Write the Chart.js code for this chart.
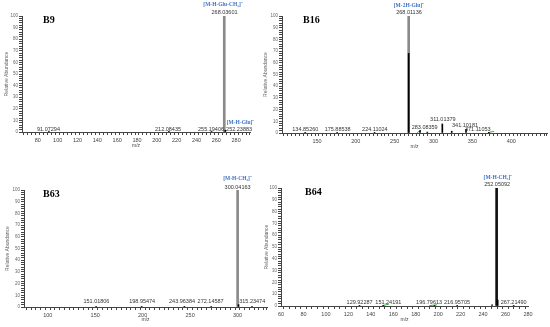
<!DOCTYPE html>
<html>
<head>
<meta charset="utf-8">
<script src="https://cdn.jsdelivr.net/npm/chart.js@4.4.0/dist/chart.umd.min.js"></script>
<style>
  body { margin: 0; background: #fff; width: 550px; height: 327px; overflow: hidden; position: relative; }
  .panel { position: absolute; }
</style>
</head>
<body>
<div class="panel" style="left:0;top:0;width:275px;height:165px"><canvas id="b9"></canvas></div>
<div class="panel" style="left:258px;top:0;width:292px;height:165px"><canvas id="b16"></canvas></div>
<div class="panel" style="left:0;top:165px;width:275px;height:162px"><canvas id="b63"></canvas></div>
<div class="panel" style="left:258px;top:165px;width:292px;height:162px"><canvas id="b64"></canvas></div>
<script>
// B9
const b9BaseMz = [268.036];
const b9BaseAb = [100];
const b9PeakMz = [91.07, 212.08, 255.19, 269.1];
const b9PeakAb = [0.3, 0.3, 0.3, 1.5];
const b9Labels = ["91.07294", "212.08435", "255.19406", "268.03601", "252.23883"];
const b9LabelMz = [90.7, 211.3, 254.7, 268.3, 283];
const b9LabelAb = [2.3, 2.3, 2.3, 103.2, 2.2];
const b9Ions = ["[M-H-Glu-CH\u2083]\u207B", "[M-H-Glu]\u207B"];
const b9IonMz = [266.8, 284.5];
const b9IonAb = [109.5, 8];

// B16
const b16BaseMz = [268.011];
const b16BaseAb = [100];
const b16PeakMz = [134.85, 175.89, 224.11, 268.011, 282.6, 292, 311.3, 323.4, 341.8, 371.1];
const b16PeakAb = [0.3, 0.3, 0.3, 68, 2, 0.8, 7.7, 1.5, 3.2, 0.3];
const b16GreenMz = [279, 284, 330, 370, 378];
const b16GreenAb = [0.3, 2.5, null, 0.3, 1.5];
const b16Labels = ["134.85260", "175.88538", "224.11024", "268.01136", "283.08359", "311.01379", "341.10181", "371.11053"];
const b16LabelMz = [135, 176.6, 224.5, 268.4, 288.6, 312, 340.5, 356.9];
const b16LabelAb = [3.4, 3.4, 3.4, 103, 4.8, 11.3, 6, 3.2];
const b16Ions = ["[M-2H-Glu]\u207B"];
const b16IonMz = [268.4];
const b16IonAb = [109];

// B63
const b63BaseMz = [300.042];
const b63BaseAb = [100];
const b63PeakMz = [151.02, 198.95, 243.96, 272.15, 301, 315.23];
const b63PeakAb = [0.3, 0.3, 0.3, 0.3, 2, 0.3];
const b63Labels = ["151.01806", "198.95474", "243.96384", "272.14587", "300.04163", "315.23474"];
const b63LabelMz = [151.3, 199.5, 241.5, 271.6, 300, 315.4];
const b63LabelAb = [4.5, 4.5, 4.5, 4.5, 102, 4.5];
const b63Ions = ["[M-H-CH\u2083]\u207B"];
const b63IonMz = [300];
const b63IonAb = [109.4];

// B64
const b64BaseMz = [252.051];
const b64BaseAb = [100];
const b64PeakMz = [129.92, 151.24, 196.8, 216.96, 248, 253, 267.21];
const b64PeakAb = [0.3, 0.3, 0.3, 0.3, 1, 5, 0.3];
const b64GreenMz = [150, 156, 175, 192, 199];
const b64GreenAb = [0.3, 1.5, null, 0.3, 1];
const b64Labels = ["129.92287", "151.24191", "196.79613", "216.95705", "252.05092", "267.21490"];
const b64LabelMz = [130, 155.6, 191.9, 216.8, 252.5, 267.2];
const b64LabelAb = [3.4, 3.4, 3.4, 3.4, 103, 3.4];
const b64Ions = ["[M-H-CH\u2083]\u207B"];
const b64IonMz = [253.2];
const b64IonAb = [109];

const AXIS_COLOR = "#444";

const peakText = {
    id: "peakText",
    afterDatasetsDraw(chart, args, o) {
        const { ctx, chartArea } = chart;
        const x = chart.scales.x, y = chart.scales.y;
        ctx.save();
        ctx.textAlign = "center";
        ctx.textBaseline = "middle";
        ctx.font = '5.5px "Liberation Sans"';
        ctx.fillStyle = "#333";
        o.labels.forEach((t, i) => ctx.fillText(t, x.getPixelForValue(o.labelMz[i]), y.getPixelForValue(o.labelAb[i])));
        ctx.font = 'bold 5.5px "Liberation Serif"';
        ctx.fillStyle = "#3f72c6";
        o.ions.forEach((t, i) => ctx.fillText(t, x.getPixelForValue(o.ionMz[i]), y.getPixelForValue(o.ionAb[i])));
        ctx.font = 'bold 10px "Liberation Serif"';
        ctx.fillStyle = "#000";
        ctx.textAlign = "left";
        ctx.fillText(o.title, chartArea.left + o.titleDx, chartArea.top + o.titleDy);
        ctx.restore();
    },
};

function toPoints(xs, ys) {
    return xs.map((v, i) => ({ x: v, y: ys[i] }));
}

function createPanel(id, p) {
    const datasets = [
        { data: toPoints(p.peakMz, p.peakAb), backgroundColor: "#000", barThickness: 1 },
        { data: toPoints(p.baseMz, p.baseAb), backgroundColor: p.baseColor, barThickness: 2 },
    ];
    if (p.greenMz)
        datasets.push({
            type: "line",
            data: toPoints(p.greenMz, p.greenAb),
            borderColor: "#3cb043",
            borderWidth: 1,
            pointRadius: 0,
            spanGaps: false,
        });

    new Chart(document.getElementById(id), {
        type: "bar",
        data: { datasets },
        plugins: [peakText],
        options: {
            responsive: true,
            maintainAspectRatio: false,
            animation: false,
            events: [],
            datasets: { bar: { grouped: false, borderWidth: 0 } },
            layout: { padding: p.padding },
            plugins: {
                legend: { display: false },
                tooltip: { enabled: false },
                peakText: {
                    labels: p.labels, labelMz: p.labelMz, labelAb: p.labelAb,
                    ions: p.ions, ionMz: p.ionMz, ionAb: p.ionAb,
                    title: p.title, titleDx: p.titleDx, titleDy: p.titleDy,
                },
            },
            scales: {
                x: {
                    type: "linear",
                    min: p.xMin,
                    max: p.xMax,
                    offset: false,
                    bounds: "data",
                    border: { color: AXIS_COLOR, width: 1 },
                    grid: { drawOnChartArea: false, tickLength: 3, tickColor: AXIS_COLOR },
                    ticks: {
                        stepSize: p.xMinor,
                        includeBounds: false,
                        autoSkip: false,
                        maxRotation: 0,
                        maxTicksLimit: 1000,
                        padding: 2,
                        color: "#444",
                        font: { size: 5.5, family: "Liberation Sans" },
                        callback: (v) => (v % p.xMajor === 0 ? v : ""),
                    },
                    title: {
                        display: true, text: "m/z", color: "#444",
                        font: { size: 5, family: "Liberation Sans" },
                        padding: { top: 0, bottom: p.xTitlePad },
                    },
                    afterFit: (s) => { s.height = 18; s.paddingLeft = 0; s.paddingRight = 0; },
                },
                y: {
                    min: 0,
                    max: 100,
                    border: { color: AXIS_COLOR, width: 1 },
                    grid: { drawOnChartArea: false, tickLength: 3, tickColor: AXIS_COLOR },
                    ticks: {
                        stepSize: 2,
                        autoSkip: false,
                        maxTicksLimit: 1000,
                        padding: 1,
                        color: "#666",
                        font: { size: 4.5, family: "Liberation Sans" },
                        callback: (v) => (v % 10 === 0 ? v : ""),
                    },
                    title: {
                        display: true, text: "Relative Abundance", color: "#666",
                        font: { size: 5, family: "Liberation Sans" },
                        padding: { top: p.yTitlePad, bottom: 0 },
                    },
                    afterFit: (s) => { s.width = p.yWidth; s.paddingTop = 0; s.paddingBottom = 0; },
                },
            },
        },
    });
}

createPanel("b9", {
    baseMz: b9BaseMz, baseAb: b9BaseAb, baseColor: "#8a8a8a",
    peakMz: b9PeakMz, peakAb: b9PeakAb,
    labels: b9Labels, labelMz: b9LabelMz, labelAb: b9LabelAb,
    ions: b9Ions, ionMz: b9IonMz, ionAb: b9IonAb,
    title: "B9", titleDx: 21, titleDy: 4.7,
    xMin: 64, xMax: 294, xMinor: 4, xMajor: 20,
    padding: { left: 0, top: 16, right: 25, bottom: 15 },
    yWidth: 22, yTitlePad: 4, xTitlePad: 1,
});

createPanel("b16", {
    baseMz: b16BaseMz, baseAb: b16BaseAb, baseColor: "#8a8a8a",
    peakMz: b16PeakMz, peakAb: b16PeakAb,
    greenMz: b16GreenMz, greenAb: b16GreenAb,
    labels: b16Labels, labelMz: b16LabelMz, labelAb: b16LabelAb,
    ions: b16Ions, ionMz: b16IonMz, ionAb: b16IonAb,
    title: "B16", titleDx: 21, titleDy: 4.7,
    xMin: 105, xMax: 446, xMinor: 5, xMajor: 50,
    padding: { left: 0, top: 16, right: 3, bottom: 14 },
    yWidth: 24, yTitlePad: 5, xTitlePad: 1.3,
});

createPanel("b63", {
    baseMz: b63BaseMz, baseAb: b63BaseAb, baseColor: "#8a8a8a",
    peakMz: b63PeakMz, peakAb: b63PeakAb,
    labels: b63Labels, labelMz: b63LabelMz, labelAb: b63LabelAb,
    ions: b63Ions, ionMz: b63IonMz, ionAb: b63IonAb,
    title: "B63", titleDx: 19, titleDy: 4.3,
    xMin: 75, xMax: 331, xMinor: 5, xMajor: 50,
    padding: { left: 0, top: 25, right: 8, bottom: 2 },
    yWidth: 24, yTitlePad: 5, xTitlePad: 2,
});

createPanel("b64", {
    baseMz: b64BaseMz, baseAb: b64BaseAb, baseColor: "#111",
    peakMz: b64PeakMz, peakAb: b64PeakAb,
    greenMz: b64GreenMz, greenAb: b64GreenAb,
    labels: b64Labels, labelMz: b64LabelMz, labelAb: b64LabelAb,
    ions: b64Ions, ionMz: b64IonMz, ionAb: b64IonAb,
    title: "B64", titleDx: 24, titleDy: 4.3,
    xMin: 60, xMax: 280, xMinor: 5, xMajor: 20,
    padding: { left: 0, top: 23, right: 22, bottom: 3 },
    yWidth: 23, yTitlePad: 5.7, xTitlePad: 1,
});
</script>
</body>
</html>
